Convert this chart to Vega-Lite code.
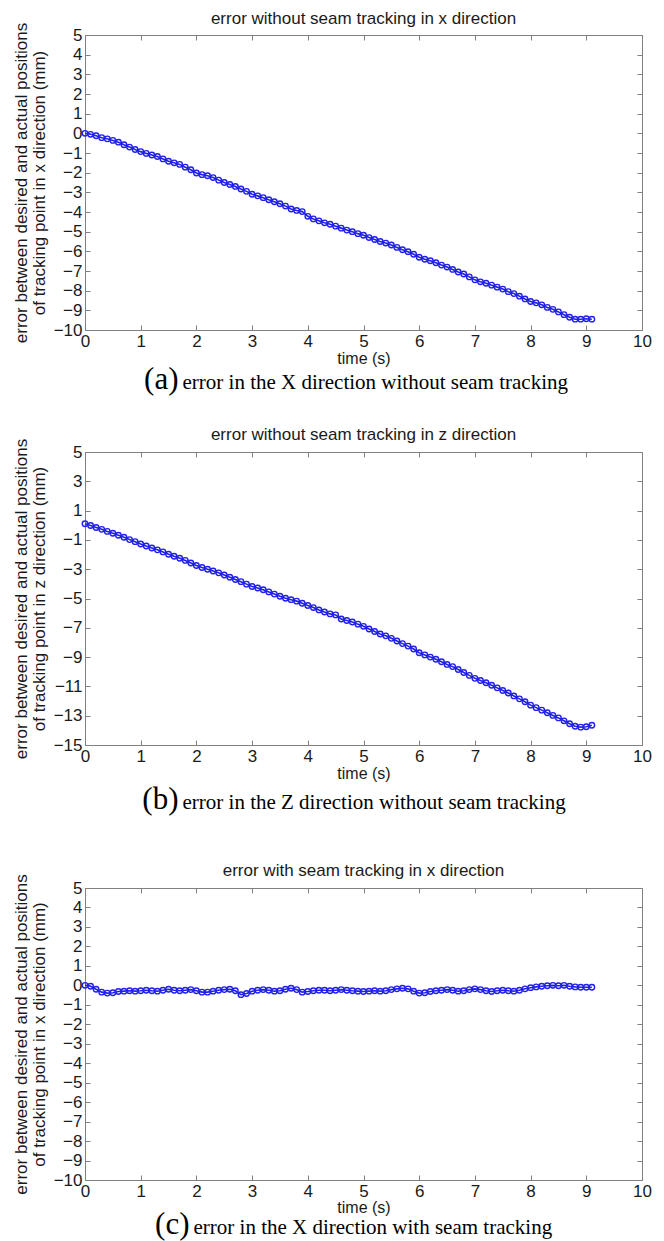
{
  "$schema": "https://vega.github.io/schema/vega-lite/v6.json",
  "padding": {"left": 12, "top": 10, "right": 0, "bottom": 0},
  "background": "white",
  "config": {
    "font": "Liberation Sans",
    "view": {"stroke": null},
    "concat": {"spacing": 0},
    "axis": {"grid": false, "domainColor": "#808080", "tickColor": "#808080", "labelColor": "#1a1a1a", "titleColor": "#1a1a1a", "labelFont": "Liberation Sans", "titleFont": "Liberation Sans", "labelFontSize": 17, "titleFontSize": 17, "titleFontWeight": "normal", "tickSize": -5, "labelPadding": 8, "labelOverlap": false, "labelFlush": false},
    "title": {"font": "Liberation Sans", "fontSize": 17, "fontWeight": "normal", "color": "#1a1a1a", "offset": -6}
  },
  "bounds": "flush",
  "datasets": {
    "a": [
      {"t":0.0,"e":0.00},{"t":0.1,"e":-0.05},{"t":0.2,"e":-0.12},{"t":0.3,"e":-0.22},{"t":0.4,"e":-0.28},{"t":0.5,"e":-0.36},{"t":0.6,"e":-0.45},{"t":0.7,"e":-0.58},{"t":0.8,"e":-0.70},{"t":0.9,"e":-0.82},
      {"t":1.0,"e":-0.93},{"t":1.1,"e":-1.02},{"t":1.2,"e":-1.10},{"t":1.3,"e":-1.18},{"t":1.4,"e":-1.30},{"t":1.5,"e":-1.42},{"t":1.6,"e":-1.50},{"t":1.7,"e":-1.58},{"t":1.8,"e":-1.72},{"t":1.9,"e":-1.85},
      {"t":2.0,"e":-2.02},{"t":2.1,"e":-2.10},{"t":2.2,"e":-2.16},{"t":2.3,"e":-2.25},{"t":2.4,"e":-2.38},{"t":2.5,"e":-2.50},{"t":2.6,"e":-2.60},{"t":2.7,"e":-2.70},{"t":2.8,"e":-2.83},{"t":2.9,"e":-2.95},
      {"t":3.0,"e":-3.10},{"t":3.1,"e":-3.18},{"t":3.2,"e":-3.27},{"t":3.3,"e":-3.38},{"t":3.4,"e":-3.48},{"t":3.5,"e":-3.58},{"t":3.6,"e":-3.70},{"t":3.7,"e":-3.85},{"t":3.8,"e":-3.92},{"t":3.9,"e":-3.98},
      {"t":4.0,"e":-4.22},{"t":4.1,"e":-4.35},{"t":4.2,"e":-4.45},{"t":4.3,"e":-4.55},{"t":4.4,"e":-4.62},{"t":4.5,"e":-4.72},{"t":4.6,"e":-4.82},{"t":4.7,"e":-4.92},{"t":4.8,"e":-5.00},{"t":4.9,"e":-5.10},
      {"t":5.0,"e":-5.18},{"t":5.1,"e":-5.30},{"t":5.2,"e":-5.40},{"t":5.3,"e":-5.50},{"t":5.4,"e":-5.58},{"t":5.5,"e":-5.68},{"t":5.6,"e":-5.80},{"t":5.7,"e":-5.92},{"t":5.8,"e":-6.02},{"t":5.9,"e":-6.15},
      {"t":6.0,"e":-6.30},{"t":6.1,"e":-6.40},{"t":6.2,"e":-6.48},{"t":6.3,"e":-6.58},{"t":6.4,"e":-6.70},{"t":6.5,"e":-6.80},{"t":6.6,"e":-6.92},{"t":6.7,"e":-7.05},{"t":6.8,"e":-7.15},{"t":6.9,"e":-7.30},
      {"t":7.0,"e":-7.45},{"t":7.1,"e":-7.55},{"t":7.2,"e":-7.62},{"t":7.3,"e":-7.72},{"t":7.4,"e":-7.82},{"t":7.5,"e":-7.92},{"t":7.6,"e":-8.05},{"t":7.7,"e":-8.15},{"t":7.8,"e":-8.28},{"t":7.9,"e":-8.42},
      {"t":8.0,"e":-8.55},{"t":8.1,"e":-8.62},{"t":8.2,"e":-8.72},{"t":8.3,"e":-8.85},{"t":8.4,"e":-8.95},{"t":8.5,"e":-9.08},{"t":8.6,"e":-9.22},{"t":8.7,"e":-9.35},{"t":8.8,"e":-9.45},{"t":8.9,"e":-9.45},
      {"t":9.0,"e":-9.43},{"t":9.1,"e":-9.45}
    ],
    "b": [
      {"t":0.0,"e":0.10},{"t":0.1,"e":-0.02},{"t":0.2,"e":-0.15},{"t":0.3,"e":-0.28},{"t":0.4,"e":-0.42},{"t":0.5,"e":-0.55},{"t":0.6,"e":-0.68},{"t":0.7,"e":-0.82},{"t":0.8,"e":-0.98},{"t":0.9,"e":-1.12},
      {"t":1.0,"e":-1.28},{"t":1.1,"e":-1.42},{"t":1.2,"e":-1.55},{"t":1.3,"e":-1.68},{"t":1.4,"e":-1.82},{"t":1.5,"e":-1.98},{"t":1.6,"e":-2.12},{"t":1.7,"e":-2.25},{"t":1.8,"e":-2.40},{"t":1.9,"e":-2.58},
      {"t":2.0,"e":-2.75},{"t":2.1,"e":-2.88},{"t":2.2,"e":-3.00},{"t":2.3,"e":-3.12},{"t":2.4,"e":-3.25},{"t":2.5,"e":-3.40},{"t":2.6,"e":-3.55},{"t":2.7,"e":-3.70},{"t":2.8,"e":-3.85},{"t":2.9,"e":-4.02},
      {"t":3.0,"e":-4.18},{"t":3.1,"e":-4.28},{"t":3.2,"e":-4.40},{"t":3.3,"e":-4.55},{"t":3.4,"e":-4.70},{"t":3.5,"e":-4.85},{"t":3.6,"e":-4.98},{"t":3.7,"e":-5.08},{"t":3.8,"e":-5.18},{"t":3.9,"e":-5.32},
      {"t":4.0,"e":-5.48},{"t":4.1,"e":-5.62},{"t":4.2,"e":-5.78},{"t":4.3,"e":-5.92},{"t":4.4,"e":-6.05},{"t":4.5,"e":-6.12},{"t":4.6,"e":-6.40},{"t":4.7,"e":-6.50},{"t":4.8,"e":-6.60},{"t":4.9,"e":-6.75},
      {"t":5.0,"e":-6.90},{"t":5.1,"e":-7.08},{"t":5.2,"e":-7.25},{"t":5.3,"e":-7.42},{"t":5.4,"e":-7.55},{"t":5.5,"e":-7.72},{"t":5.6,"e":-7.90},{"t":5.7,"e":-8.08},{"t":5.8,"e":-8.25},{"t":5.9,"e":-8.45},
      {"t":6.0,"e":-8.70},{"t":6.1,"e":-8.85},{"t":6.2,"e":-9.00},{"t":6.3,"e":-9.15},{"t":6.4,"e":-9.32},{"t":6.5,"e":-9.50},{"t":6.6,"e":-9.65},{"t":6.7,"e":-9.85},{"t":6.8,"e":-10.05},{"t":6.9,"e":-10.25},
      {"t":7.0,"e":-10.45},{"t":7.1,"e":-10.60},{"t":7.2,"e":-10.75},{"t":7.3,"e":-10.92},{"t":7.4,"e":-11.10},{"t":7.5,"e":-11.28},{"t":7.6,"e":-11.45},{"t":7.7,"e":-11.65},{"t":7.8,"e":-11.85},{"t":7.9,"e":-12.05},
      {"t":8.0,"e":-12.28},{"t":8.1,"e":-12.45},{"t":8.2,"e":-12.62},{"t":8.3,"e":-12.80},{"t":8.4,"e":-12.98},{"t":8.5,"e":-13.15},{"t":8.6,"e":-13.35},{"t":8.7,"e":-13.55},{"t":8.8,"e":-13.72},{"t":8.9,"e":-13.78},
      {"t":9.0,"e":-13.75},{"t":9.1,"e":-13.65}
    ],
    "c": [
      {"t":0.0,"e":0.00},{"t":0.1,"e":-0.05},{"t":0.2,"e":-0.20},{"t":0.3,"e":-0.35},{"t":0.4,"e":-0.40},{"t":0.5,"e":-0.38},{"t":0.6,"e":-0.32},{"t":0.7,"e":-0.30},{"t":0.8,"e":-0.28},{"t":0.9,"e":-0.30},
      {"t":1.0,"e":-0.28},{"t":1.1,"e":-0.25},{"t":1.2,"e":-0.28},{"t":1.3,"e":-0.30},{"t":1.4,"e":-0.25},{"t":1.5,"e":-0.20},{"t":1.6,"e":-0.25},{"t":1.7,"e":-0.28},{"t":1.8,"e":-0.25},{"t":1.9,"e":-0.22},
      {"t":2.0,"e":-0.28},{"t":2.1,"e":-0.35},{"t":2.2,"e":-0.35},{"t":2.3,"e":-0.30},{"t":2.4,"e":-0.25},{"t":2.5,"e":-0.22},{"t":2.6,"e":-0.20},{"t":2.7,"e":-0.28},{"t":2.8,"e":-0.48},{"t":2.9,"e":-0.42},
      {"t":3.0,"e":-0.30},{"t":3.1,"e":-0.25},{"t":3.2,"e":-0.22},{"t":3.3,"e":-0.25},{"t":3.4,"e":-0.30},{"t":3.5,"e":-0.28},{"t":3.6,"e":-0.20},{"t":3.7,"e":-0.15},{"t":3.8,"e":-0.22},{"t":3.9,"e":-0.35},
      {"t":4.0,"e":-0.32},{"t":4.1,"e":-0.28},{"t":4.2,"e":-0.25},{"t":4.3,"e":-0.25},{"t":4.4,"e":-0.28},{"t":4.5,"e":-0.25},{"t":4.6,"e":-0.22},{"t":4.7,"e":-0.25},{"t":4.8,"e":-0.28},{"t":4.9,"e":-0.30},
      {"t":5.0,"e":-0.32},{"t":5.1,"e":-0.30},{"t":5.2,"e":-0.28},{"t":5.3,"e":-0.30},{"t":5.4,"e":-0.28},{"t":5.5,"e":-0.22},{"t":5.6,"e":-0.18},{"t":5.7,"e":-0.15},{"t":5.8,"e":-0.18},{"t":5.9,"e":-0.30},
      {"t":6.0,"e":-0.40},{"t":6.1,"e":-0.38},{"t":6.2,"e":-0.32},{"t":6.3,"e":-0.28},{"t":6.4,"e":-0.25},{"t":6.5,"e":-0.22},{"t":6.6,"e":-0.25},{"t":6.7,"e":-0.30},{"t":6.8,"e":-0.28},{"t":6.9,"e":-0.22},
      {"t":7.0,"e":-0.18},{"t":7.1,"e":-0.22},{"t":7.2,"e":-0.28},{"t":7.3,"e":-0.32},{"t":7.4,"e":-0.28},{"t":7.5,"e":-0.25},{"t":7.6,"e":-0.28},{"t":7.7,"e":-0.30},{"t":7.8,"e":-0.25},{"t":7.9,"e":-0.18},
      {"t":8.0,"e":-0.12},{"t":8.1,"e":-0.08},{"t":8.2,"e":-0.05},{"t":8.3,"e":-0.02},{"t":8.4,"e":0.00},{"t":8.5,"e":-0.02},{"t":8.6,"e":0.00},{"t":8.7,"e":-0.05},{"t":8.8,"e":-0.08},{"t":8.9,"e":-0.10},
      {"t":9.0,"e":-0.10},{"t":9.1,"e":-0.10}
    ]
  },
  "vconcat": [
    {
      "width": 557, "height": 295,
      "title": {"text": "error without seam tracking in x direction"},
      "data": {"name": "a"},
      "layer": [
        {"mark": {"type": "line", "color": "#2020e8", "strokeWidth": 1.6},
         "encoding": {
           "x": {"field": "t", "type": "quantitative", "scale": {"domain": [0, 10], "nice": false}, "axis": {"orient": "bottom", "values": [0,1,2,3,4,5,6,7,8,9,10], "format": "d", "title": "time (s)", "titlePadding": 1, "titleFontSize": 16}},
           "y": {"field": "e", "type": "quantitative", "scale": {"domain": [-10, 5], "nice": false}, "axis": {"orient": "left", "values": [-10,-9,-8,-7,-6,-5,-4,-3,-2,-1,0,1,2,3,4,5], "format": "d", "title": ["error between desired and actual positions", "of tracking point in x direction (mm)"], "titlePadding": 5, "titleLineHeight": 18}}
         }},
        {"mark": {"type": "point", "shape": "circle", "filled": false, "color": "#2020e8", "size": 30, "strokeWidth": 1.4, "opacity": 1},
         "encoding": {
           "x": {"field": "t", "type": "quantitative", "axis": {"orient": "top", "values": [0,1,2,3,4,5,6,7,8,9,10], "labels": false, "title": null}},
           "y": {"field": "e", "type": "quantitative", "axis": {"orient": "right", "values": [-10,-9,-8,-7,-6,-5,-4,-3,-2,-1,0,1,2,3,4,5], "labels": false, "title": null}}
         }}
      ],
      "resolve": {"axis": {"x": "independent", "y": "independent"}}
    },
    {
      "width": 557, "height": 122,
      "data": {"values": [{"tag": "(a)", "caption": "error in the X direction without seam tracking"}]},
      "layer": [
        {"mark": {"type": "text", "font": "Liberation Serif", "fontSize": 31, "align": "right", "baseline": "alphabetic", "dx": -185, "dy": -2, "color": "#000000"}, "encoding": {"text": {"field": "tag"}}},
        {"mark": {"type": "text", "font": "Liberation Serif", "fontSize": 21, "align": "left", "baseline": "alphabetic", "dx": -181, "dy": -2, "color": "#000000"}, "encoding": {"text": {"field": "caption"}}}
      ]
    },
    {
      "width": 557, "height": 293,
      "title": {"text": "error without seam tracking in z direction"},
      "data": {"name": "b"},
      "layer": [
        {"mark": {"type": "line", "color": "#2020e8", "strokeWidth": 1.6},
         "encoding": {
           "x": {"field": "t", "type": "quantitative", "scale": {"domain": [0, 10], "nice": false}, "axis": {"orient": "bottom", "values": [0,1,2,3,4,5,6,7,8,9,10], "format": "d", "title": "time (s)", "titlePadding": 1, "titleFontSize": 16}},
           "y": {"field": "e", "type": "quantitative", "scale": {"domain": [-15, 5], "nice": false}, "axis": {"orient": "left", "values": [-15,-13,-11,-9,-7,-5,-3,-1,1,3,5], "format": "d", "title": ["error between desired and actual positions", "of tracking point in z direction (mm)"], "titlePadding": 5, "titleLineHeight": 18}}
         }},
        {"mark": {"type": "point", "shape": "circle", "filled": false, "color": "#2020e8", "size": 30, "strokeWidth": 1.4, "opacity": 1},
         "encoding": {
           "x": {"field": "t", "type": "quantitative", "axis": {"orient": "top", "values": [0,1,2,3,4,5,6,7,8,9,10], "labels": false, "title": null}},
           "y": {"field": "e", "type": "quantitative", "axis": {"orient": "right", "values": [-15,-13,-11,-9,-7,-5,-3,-1,1,3,5], "labels": false, "title": null}}
         }}
      ],
      "resolve": {"axis": {"x": "independent", "y": "independent"}}
    },
    {
      "width": 557, "height": 143,
      "data": {"values": [{"tag": "(b)", "caption": "error in the Z direction without seam tracking"}]},
      "layer": [
        {"mark": {"type": "text", "font": "Liberation Serif", "fontSize": 31, "align": "right", "baseline": "alphabetic", "dx": -185, "dy": -8, "color": "#000000"}, "encoding": {"text": {"field": "tag"}}},
        {"mark": {"type": "text", "font": "Liberation Serif", "fontSize": 21, "align": "left", "baseline": "alphabetic", "dx": -181, "dy": -8, "color": "#000000"}, "encoding": {"text": {"field": "caption"}}}
      ]
    },
    {
      "width": 557, "height": 292,
      "title": {"text": "error with seam tracking in x direction"},
      "data": {"name": "c"},
      "layer": [
        {"mark": {"type": "line", "color": "#2020e8", "strokeWidth": 1.6},
         "encoding": {
           "x": {"field": "t", "type": "quantitative", "scale": {"domain": [0, 10], "nice": false}, "axis": {"orient": "bottom", "values": [0,1,2,3,4,5,6,7,8,9,10], "format": "d", "title": "time (s)", "titlePadding": 0, "titleFontSize": 16}},
           "y": {"field": "e", "type": "quantitative", "scale": {"domain": [-10, 5], "nice": false}, "axis": {"orient": "left", "values": [-10,-9,-8,-7,-6,-5,-4,-3,-2,-1,0,1,2,3,4,5], "format": "d", "title": ["error between desired and actual positions", "of tracking point in x direction (mm)"], "titlePadding": 5, "titleLineHeight": 18}}
         }},
        {"mark": {"type": "point", "shape": "circle", "filled": false, "color": "#2020e8", "size": 30, "strokeWidth": 1.4, "opacity": 1},
         "encoding": {
           "x": {"field": "t", "type": "quantitative", "axis": {"orient": "top", "values": [0,1,2,3,4,5,6,7,8,9,10], "labels": false, "title": null}},
           "y": {"field": "e", "type": "quantitative", "axis": {"orient": "right", "values": [-10,-9,-8,-7,-6,-5,-4,-3,-2,-1,0,1,2,3,4,5], "labels": false, "title": null}}
         }}
      ],
      "resolve": {"axis": {"x": "independent", "y": "independent"}}
    },
    {
      "width": 557, "height": 61,
      "data": {"values": [{"tag": "(c)", "caption": "error in the X direction with seam tracking"}]},
      "layer": [
        {"mark": {"type": "text", "font": "Liberation Serif", "fontSize": 31, "align": "right", "baseline": "alphabetic", "dx": -174, "dy": 23, "color": "#000000"}, "encoding": {"text": {"field": "tag"}}},
        {"mark": {"type": "text", "font": "Liberation Serif", "fontSize": 21, "align": "left", "baseline": "alphabetic", "dx": -170, "dy": 23, "color": "#000000"}, "encoding": {"text": {"field": "caption"}}}
      ]
    }
  ]
}
